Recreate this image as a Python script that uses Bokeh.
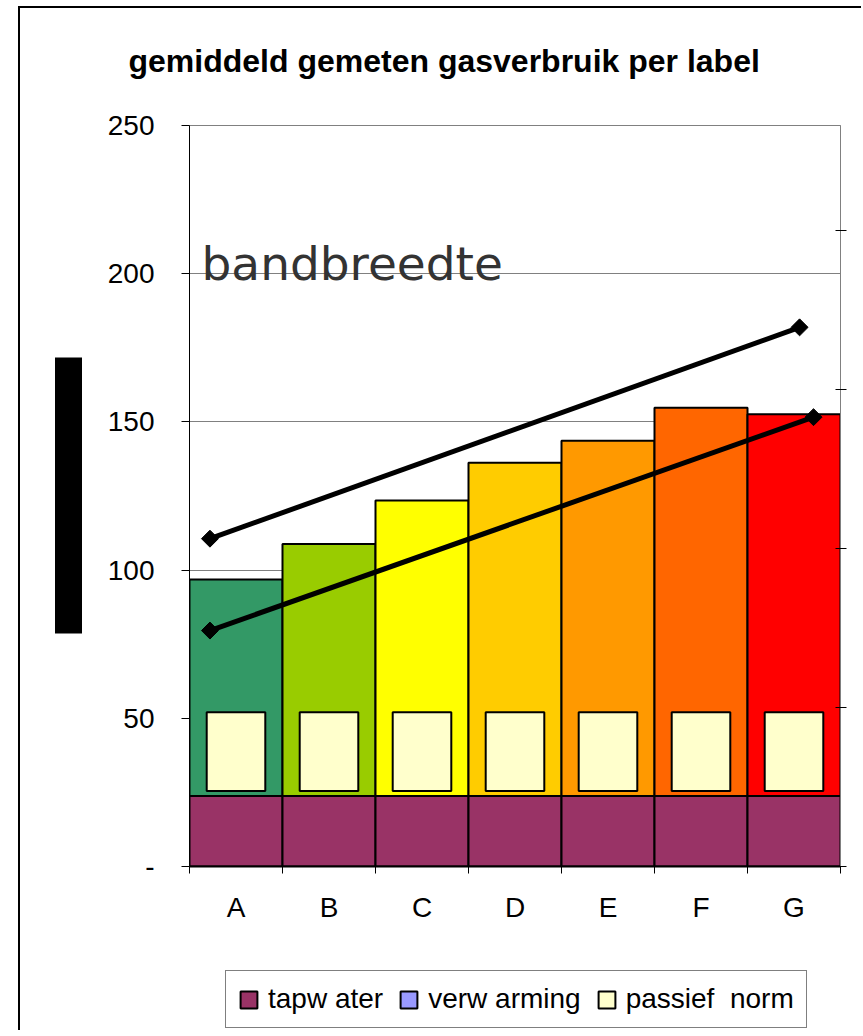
from bokeh.plotting import figure
from bokeh.layouts import column
from bokeh.models import (Range1d, LinearAxis, FixedTicker, Label, Legend, LegendItem,
                          ColumnDataSource)
from bokeh.embed import file_html
from bokeh.resources import INLINE

# ---------------- data ----------------
categories = ["A", "B", "C", "D", "E", "F", "G"]
tapwater = [23.8, 23.8, 23.8, 23.8, 23.8, 23.8, 23.8]
verwarming = [73.0, 85.0, 99.7, 112.4, 119.8, 131.0, 128.8]
passief_base = [25.5, 25.5, 25.5, 25.5, 25.5, 25.5, 25.5]
passief_norm = [26.5, 26.5, 26.5, 26.5, 26.5, 26.5, 26.5]
label_colors = ["#339966", "#99CC00", "#FFFF00", "#FFCC00", "#FF9900", "#FF6600", "#FF0000"]
band_upper_x = [0.22, 6.56]
band_upper_y = [110.6, 181.9]
band_lower_x = [0.22, 6.71]
band_lower_y = [79.6, 151.6]
y_ticks = [0, 50, 100, 150, 200, 250]
y_tick_labels = ["-", "50", "100", "150", "200", "250"]
right_ticks = [0, 50, 100, 150, 200]
legend_labels = ["tapw ater", "verw arming", "passief  norm"]
series_colors = ["#993366", "#9999FF", "#FFFFCC"]
title_text = "gemiddeld gemeten gasverbruik per label"
band_text = "bandbreedte"

FONT = "Liberation Sans"
BORDER = "2px solid black"

xpos = [i + 0.5 for i in range(len(categories))]
verw_top = [t + v for t, v in zip(tapwater, verwarming)]
pas_top = [b + n for b, n in zip(passief_base, passief_norm)]
src = ColumnDataSource(dict(x=xpos, tap=tapwater, vt=verw_top, pb=passief_base, pt=pas_top,
                            col=label_colors))

# ---------------- main chart ----------------
p = figure(width=843, height=932, output_backend="svg", toolbar_location=None,
           x_range=Range1d(0, 7), y_range=Range1d(0, 250),
           min_border_left=169, min_border_right=23, min_border_top=117, min_border_bottom=74,
           background_fill_color="white", border_fill_color="white")
p.styles = {"margin-left": "18px", "margin-top": "6px",
            "border-left": BORDER, "border-top": BORDER}
p.outline_line_color = "#808080"
p.outline_line_width = 1
p.xgrid.visible = False
p.ygrid.ticker = FixedTicker(ticks=y_ticks)
p.ygrid.grid_line_color = "#808080"
p.ygrid.grid_line_width = 1

xa = p.xaxis[0]
ya = p.yaxis[0]

# bottom category axis
xa.ticker = FixedTicker(ticks=xpos, minor_ticks=list(range(len(categories) + 1)))
xa.major_label_overrides = {x: c for x, c in zip(xpos, categories)}
xa.major_label_text_font = FONT
xa.major_label_text_font_size = "28px"
xa.major_label_text_color = "black"
xa.major_tick_out = 0
xa.major_tick_in = 0
xa.minor_tick_out = 7
xa.minor_tick_in = 0
xa.minor_tick_line_color = "black"
xa.major_label_standoff = 18
xa.axis_line_color = "black"
xa.axis_line_width = 2

# left value axis
ya.ticker = FixedTicker(ticks=y_ticks)
ya.major_label_overrides = {t: l for t, l in zip(y_ticks, y_tick_labels)}
ya.major_label_text_font = FONT
ya.major_label_text_font_size = "28px"
ya.major_label_text_color = "black"
ya.major_tick_out = 8
ya.major_tick_in = 0
ya.minor_tick_out = 0
ya.minor_tick_in = 0
ya.major_label_standoff = 27
ya.axis_line_color = "black"
ya.major_tick_line_color = "black"

# title (outermost in the 'above' panel), pushed up by an invisible spacer axis
p.title.text = title_text
p.title.text_font = FONT
p.title.text_font_style = "bold"
p.title.text_font_size = "32px"
p.title.text_color = "black"
p.title.align = "left"
p.title.offset = -61
p.title.standoff = 10
spacer_top = LinearAxis(ticker=FixedTicker(ticks=[0.5]), major_tick_out=42, major_tick_in=0,
                        minor_tick_out=0, minor_tick_in=0, axis_line_color=None,
                        major_tick_line_color=None, minor_tick_line_color=None,
                        major_label_overrides={0.5: ""}, major_label_standoff=0)
p.add_layout(spacer_top, "above")

# spacer axis + black block (the blacked-out axis title)
spacer = LinearAxis(ticker=FixedTicker(ticks=[0]), major_tick_out=36, major_tick_in=0,
                    minor_tick_out=0, minor_tick_in=0, axis_line_color=None,
                    major_tick_line_color=None, minor_tick_line_color=None,
                    major_label_overrides={0: ""}, major_label_standoff=0)
p.add_layout(spacer, "left")
block = LinearAxis(ticker=FixedTicker(ticks=[]), bounds=(78.6, 171.7),
                   major_tick_out=0, major_tick_in=0, minor_tick_out=0, minor_tick_in=0,
                   axis_line_color="black", axis_line_width=27,
                   major_tick_line_color=None, minor_tick_line_color=None)
p.add_layout(block, "left")

# right secondary axis (ticks only)
p.extra_y_ranges = {"sec": Range1d(0, 233)}
ra = LinearAxis(y_range_name="sec", ticker=FixedTicker(ticks=right_ticks))
ra.major_label_overrides = {t: "" for t in right_ticks}
ra.major_tick_in = 5
ra.major_tick_out = 6
ra.minor_tick_in = 0
ra.minor_tick_out = 0
ra.axis_line_color = "#808080"
ra.major_tick_line_color = "black"
p.add_layout(ra, "right")

p.vbar(x="x", width=1.0, bottom=0, top="tap", source=src, fill_color=series_colors[0],
       line_color="black", line_width=2)
p.vbar(x="x", width=1.0, bottom="tap", top="vt", source=src, fill_color="col",
       line_color="black", line_width=2)
p.vbar(x="x", width=0.63, bottom="pb", top="pt", source=src, fill_color=series_colors[2],
       line_color="black", line_width=2)

for bx, by in [(band_upper_x, band_upper_y), (band_lower_x, band_lower_y)]:
    p.line(bx, by, line_color="black", line_width=5)
    p.scatter(bx, by, marker="square", size=12, angle=0.785, fill_color="black",
              line_color="black")

p.add_layout(Label(x=12, y=866 - 263, x_units="screen", y_units="screen", text=band_text,
                   text_font="DejaVu Sans", text_font_size="47px", text_color="#333333",
                   text_baseline="alphabetic", text_align="left"))

# ---------------- legend strip ----------------
lp = figure(width=843, height=92, output_backend="svg", toolbar_location=None,
            x_range=Range1d(0, 1), y_range=Range1d(0, 1), min_border=0,
            x_axis_location=None, y_axis_location=None, outline_line_color=None,
            background_fill_color="white", border_fill_color="white")
lp.grid.visible = False
lp.styles = {"margin-left": "18px", "border-left": BORDER}
lr_tap = lp.vbar(x="x", width=1.0, bottom=0, top="tap", source=src,
                 fill_color=series_colors[0], line_color="black", line_width=2, visible=False)
lr_verw = lp.vbar(x="x", width=1.0, bottom="tap", top="vt", source=src,
                  fill_color=series_colors[1], line_color="black", line_width=2, visible=False)
lr_pas = lp.vbar(x="x", width=0.63, bottom="pb", top="pt", source=src,
                 fill_color=series_colors[2], line_color="black", line_width=2, visible=False)
items = [LegendItem(label=lab, renderers=[r]) for lab, r in
         zip(legend_labels, [lr_tap, lr_verw, lr_pas])]
leg = Legend(items=items, orientation="horizontal", location=(36, 2),
             label_text_font=FONT, label_text_font_size="28px", label_text_color="black",
             glyph_width=21, glyph_height=21, label_standoff=9, spacing=15, padding=12,
             margin=0, border_line_color="black", border_line_width=1,
             background_fill_color="white", background_fill_alpha=1.0,
             inactive_fill_alpha=0.0)
lp.add_layout(leg, "center")

layout = column(p, lp, spacing=0)
open("out.html", "w").write(file_html(layout, INLINE))
